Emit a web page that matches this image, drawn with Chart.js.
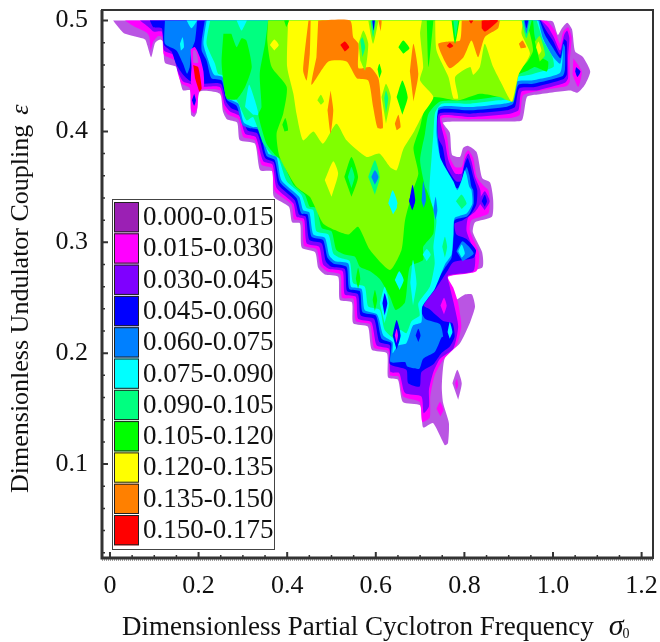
<!DOCTYPE html>
<html>
<head>
<meta charset="utf-8">
<style>html,body{margin:0;padding:0;background:#fff}canvas{display:block}</style>
<script src="https://cdn.jsdelivr.net/npm/chart.js@4"></script>
</head>
<body>
<canvas id="myCanvas" width="660" height="642"></canvas>
<script>
var xTicks = [0,0.2,0.4,0.6,0.8,1.0,1.2]
var xTickLabels = ['0','0.2','0.4','0.6','0.8','1.0','1.2']
var xMinorTicks = [0.05,0.1,0.15,0.25,0.3,0.35,0.45,0.5,0.55,0.65,0.7,0.75,0.85,0.9,0.95,1.05,1.1,1.15]
var yTicks = [0.1,0.2,0.3,0.4,0.5]
var yTickLabels = ['0.1','0.2','0.3','0.4','0.5']
var yMinorTicks = [0.02,0.04,0.06,0.08,0.12,0.14,0.16,0.18,0.22,0.24,0.26,0.28,0.32,0.34,0.36,0.38,0.42,0.44,0.46,0.48]
var bandLabels = ['0.000-0.015','0.015-0.030','0.030-0.045','0.045-0.060','0.060-0.075','0.075-0.090','0.090-0.105','0.105-0.120','0.120-0.135','0.135-0.150','0.150-0.175']

// contour outlines, flat x,y lists in axis units
var purpleEdge = [.007,.5,.023,.492,.034,.488,.079,.483,.084,.478,.093,.467,.102,.480,.113,.483,.120,.481,.124,.462,.151,.458,.158,.446,.165,.437,.181,.437,.183,.415,.190,.413,.196,.417,.203,.436,.248,.434,.255,.418,.264,.411,.287,.408,.293,.392,.327,.389,.339,.365,.366,.364,.370,.341,.404,.332,.411,.318,.429,.317,.433,.295,.463,.291,.470,.277,.485,.271,.515,.269,.519,.248,.546,.246,.549,.227,.582,.224,.591,.203,.625,.200,.628,.178,.650,.176,.661,.156,.700,.153,.707,.133,.729,.137,.756,.117,.763,.119,.765,.137,.752,.155,.749,.170,.756,.196,.790,.209,.813,.228,.824,.242,.817,.253,.801,.253,.779,.248,.767,.260,.763,.271,.840,.277,.840,.291,.819,.309,.824,.318,.862,.323,.865,.338,.858,.354,.840,.358,.828,.381,.808,.387,.797,.385,.790,.377,.772,.379,.767,.399,.752,.408,.812,.409,.903,.409,.930,.410,.941,.431,.959,.433,1.038,.437,1.056,.435,1.072,.442,1.084,.454,1.068,.467,1.050,.472,1.043,.492,1.032,.498,1.020,.493,1.011,.487,1.000,.499,.982,.5]
var magentaEdge = [.034,.5,.053,.495,.083,.489,.089,.485,.092,.473,.098,.481,.109,.486,.118,.485,.122,.469,.147,.464,.154,.451,.162,.443,.180,.439,.183,.419,.190,.416,.197,.421,.202,.437,.248,.437,.257,.421,.267,.415,.290,.411,.301,.395,.327,.392,.342,.370,.365,.367,.372,.346,.410,.334,.415,.321,.434,.319,.438,.297,.466,.294,.475,.279,.489,.274,.520,.271,.524,.250,.549,.249,.555,.229,.587,.226,.596,.205,.628,.202,.632,.180,.651,.179,.662,.161,.699,.156,.705,.138,.722,.142,.723,.161,.733,.180,.752,.194,.782,.207,.793,.224,.786,.245,.775,.259,.763,.269,.827,.274,.833,.290,.812,.311,.816,.320,.854,.326,.857,.340,.854,.347,.846,.350,.828,.359,.820,.376,.809,.383,.801,.379,.794,.368,.779,.368,.767,.377,.761,.395,.749,.412,.813,.411,.903,.412,.925,.415,.934,.433,1.031,.441,1.038,.445,1.038,.464,1.042,.485,1.034,.494,1.023,.490,1.016,.479,1.004,.491,.989,.499,.978,.5]
var violetEdge = [.068,.5,.090,.493,.098,.490,.117,.490,.122,.473,.143,.469,.152,.455,.165,.445,.180,.443,.199,.440,.248,.440,.259,.424,.271,.418,.292,.414,.305,.398,.329,.395,.346,.373,.367,.370,.376,.349,.414,.335,.421,.323,.438,.321,.444,.299,.472,.296,.481,.280,.495,.276,.525,.274,.530,.253,.555,.251,.560,.231,.590,.228,.602,.207,.630,.204,.633,.183,.653,.182,.666,.164,.703,.161,.708,.146,.720,.152,.720,.167,.730,.183,.745,.195,.775,.204,.786,.224,.776,.245,.767,.260,.763,.270,.820,.274,.824,.289,.805,.310,.808,.322,.825,.328,.836,.335,.836,.347,.824,.359,.816,.373,.809,.380,.801,.374,.794,.362,.779,.362,.764,.374,.756,.392,.746,.414,.813,.413,.903,.416,.922,.419,.929,.436,.963,.437,1.027,.444,1.034,.448,1.034,.467,1.037,.484,1.032,.491,1.025,.487,1.016,.473,1.002,.485,.989,.494,.974,.5]
var blueEdge = [.090,.5,.098,.494,.117,.493,.122,.478,.139,.472,.149,.461,.165,.451,.179,.446,.203,.443,.250,.443,.262,.427,.274,.421,.295,.417,.310,.401,.333,.398,.350,.376,.370,.372,.380,.352,.417,.338,.427,.325,.442,.323,.450,.302,.478,.299,.487,.283,.500,.278,.530,.276,.535,.256,.560,.253,.566,.234,.596,.231,.608,.210,.632,.207,.632,.190,.669,.185,.673,.173,.699,.170,.703,.183,.730,.190,.748,.200,.767,.206,.778,.215,.773,.227,.752,.229,.720,.240,.708,.243,.737,.259,.763,.275,.775,.282,.821,.286,.826,.293,.805,.303,.782,.307,.778,.317,.797,.320,.814,.325,.827,.334,.829,.347,.820,.359,.813,.370,.807,.376,.799,.368,.792,.355,.781,.355,.760,.368,.751,.386,.741,.394,.743,.416,.813,.416,.895,.419,.914,.422,.924,.439,.959,.440,1.023,.447,1.031,.451,1.031,.467,1.031,.481,1.025,.483,1.016,.469,1.001,.481,.986,.490,.972,.5]
var azureEdge = [.214,.5,.207,.482,.207,.473,.218,.464,.229,.448,.252,.446,.265,.428,.286,.423,.299,.406,.314,.403,.337,.401,.353,.378,.372,.374,.384,.354,.421,.340,.432,.326,.446,.325,.455,.305,.481,.302,.491,.286,.504,.281,.534,.278,.540,.258,.564,.256,.570,.237,.600,.234,.613,.213,.635,.209,.633,.192,.666,.192,.671,.188,.698,.186,.707,.195,.733,.201,.748,.214,.752,.215,.745,.226,.711,.231,.700,.243,.730,.260,.756,.277,.771,.286,.776,.307,.778,.320,.805,.323,.812,.326,.821,.335,.820,.347,.816,.350,.811,.361,.805,.368,.796,.359,.786,.349,.775,.350,.756,.362,.746,.374,.741,.419,.813,.419,.892,.422,.910,.425,.922,.442,.955,.443,1.022,.450,1.027,.456,1.027,.476,1.023,.479,1.017,.466,.999,.476,.982,.487,.970,.5]
var cyanEdge = [.218,.5,.211,.479,.222,.464,.235,.451,.254,.449,.267,.430,.290,.425,.302,.408,.323,.404,.340,.403,.357,.380,.376,.377,.387,.356,.427,.341,.436,.329,.450,.327,.459,.307,.485,.304,.495,.288,.508,.283,.538,.281,.544,.260,.568,.258,.575,.239,.603,.235,.617,.216,.638,.210,.638,.200,.650,.207,.669,.209,.684,.225,.703,.228,.705,.242,.733,.258,.756,.280,.771,.289,.775,.308,.778,.322,.805,.326,.818,.335,.816,.347,.811,.350,.805,.361,.801,.365,.794,.356,.784,.347,.775,.355,.756,.368,.745,.377,.737,.398,.741,.421,.756,.423,.813,.422,.888,.425,.907,.427,.919,.445,.952,.446,1.016,.453,1.022,.473,1.016,.461,.997,.469,.977,.484,.967,.5]
var springEdge = [.226,.5,.218,.479,.237,.461,.244,.452,.257,.450,.262,.431,.286,.428,.308,.410,.323,.413,.346,.389,.365,.379,.380,.376,.399,.355,.432,.343,.444,.331,.459,.329,.466,.310,.493,.307,.504,.290,.519,.286,.541,.283,.549,.263,.575,.260,.583,.242,.609,.239,.620,.221,.643,.213,.654,.221,.669,.218,.681,.229,.699,.234,.696,.245,.722,.260,.733,.281,.730,.296,.737,.320,.726,.335,.721,.347,.726,.377,.730,.398,.734,.417,.749,.425,.813,.425,.877,.428,.903,.430,.914,.448,.948,.451,1.001,.458,.999,.467,.978,.482,.963,.5]
var greenEdge = [.357,.5,.350,.479,.338,.452,.342,.422,.335,.415,.353,.389,.372,.379,.387,.374,.414,.352,.440,.343,.451,.332,.466,.331,.478,.313,.500,.310,.511,.293,.530,.289,.553,.287,.564,.278,.587,.274,.609,.267,.632,.251,.645,.239,.666,.246,.677,.278,.707,.284,.707,.296,.730,.308,.730,.329,.715,.347,.711,.350,.700,.374,.711,.398,.719,.416,.745,.427,.813,.428,.869,.431,.899,.433,.910,.449,.944,.455,.959,.458,.986,.454,.989,.463,.974,.467,.959,.485,.955,.5]
var limeEdge = [.357,.5,.355,.482,.365,.458,.399,.440,.391,.416,.376,.398,.383,.377,.421,.350,.451,.341,.459,.335,.481,.317,.508,.311,.538,.307,.560,.314,.587,.293,.632,.275,.658,.293,.666,.320,.684,.347,.696,.362,.685,.385,.700,.404,.711,.422,.730,.431,.786,.428,.835,.434,.880,.431,.897,.428,.910,.427,.925,.455,.944,.464,.955,.473,.948,.488,.940,.5]
var yellowEdge = [.402,.5,.400,.458,.414,.434,.421,.416,.436,.392,.459,.400,.481,.389,.511,.407,.534,.392,.579,.377,.608,.380,.632,.368,.647,.365,.662,.384,.685,.399,.707,.416,.730,.431,.700,.446,.707,.458,.700,.488,.704,.5]
var yellowEdgeRight = [.734,.5,.737,.473,.764,.449,.775,.430,.786,.430,.779,.449,.813,.458,.820,.451,.835,.458,.846,.479,.865,.458,.884,.443,.907,.427,.922,.451,.948,.470,.929,.488,.933,.5]
var orangeMain = [.470,.5,.542,.5,.549,.485,.561,.479,.561,.457,.587,.458,.606,.448,.612,.425,.616,.403,.604,.403,.594,.422,.583,.446,.557,.448,.534,.463,.493,.463,.455,.442,.466,.467]
var orangeStreak = [.448,.5,.436,.455,.444,.446,.451,.470,.453,.5]
var orangeOval = [.498,.437,.504,.419,.498,.398,.491,.419]
var orangeDiamond = [.677,.454,.685,.479,.696,.452,.685,.427]
var orangeRight = [.794,.5,.790,.482,.764,.481,.741,.479,.749,.469,.767,.457,.798,.467,.816,.482,.831,.467,.846,.485,.876,.493,.880,.5]
var orangeSmall1 = [.923,.479,.931,.482,.939,.476,.927,.475]
var orangeSmall2 = [.643,.407,.651,.415,.656,.404,.647,.401]
var orangeSmall3 = [.606,.5,.613,.5,.611,.490]
var redCentre = [.520,.478,.530,.481,.540,.476,.530,.472]
var redTongue = [.188,.460,.199,.458,.207,.439,.202,.436,.192,.448]
var redTop = [.839,.5,.876,.5,.858,.493,.846,.490,.839,.493]
var redSpot = [.760,.477,.767,.480,.775,.477,.767,.475]
var redTiny = [.810,.5,.820,.5,.815,.497]

// small closed islands, listed by band
var azureBlob = [.124,.5,.124,.479,.150,.473,.165,.461,.174,.452,.180,.458,.184,.473,.192,.482,.197,.5]
var tongueMagenta = [.182,.474,.192,.476,.203,.467,.211,.454,.211,.439,.184,.442,.184,.458]
var tonguePurple = [.187,.473,.194,.473,.199,.462,.188,.462]
var blueSpike = [.190,.434,.194,.428,.190,.423,.185,.428]
var cyanTop1 = [.173,.5,.184,.493,.197,.5]
var cyanTop2 = [.158,.479,.164,.485,.167,.476,.160,.473]
var cyanTop3 = [.286,.5,.297,.491,.309,.5]
var cyanBlob = [.305,.422,.314,.442,.327,.428,.335,.415,.323,.415]
var greenPatch = [.256,.488,.252,.461,.263,.430,.286,.429,.305,.440,.320,.458,.308,.482,.297,.484,.286,.476,.274,.488]
var yellowSpot1 = [.361,.478,.371,.483,.381,.478,.371,.473]
var greenTop = [.393,.5,.404,.5,.398,.494]
var greenSpot1 = [.389,.406,.396,.412,.402,.401,.394,.400]
var limeRing = [.561,.479,.572,.491,.583,.479,.576,.455,.565,.464]
var springCore = [.565,.482,.570,.485,.576,.476,.570,.467]
var limeWedge = [.583,.5,.594,.479,.606,.5]
var springWedge = [.588,.5,.594,.485,.600,.5]
var blueWedge = [.592,.5,.595,.491,.598,.5]
var limeSpot = [.468,.428,.476,.433,.483,.427,.476,.424]
var greenOval = [.529,.359,.545,.377,.560,.359,.545,.341]
var springOval = [.537,.359,.545,.368,.552,.359,.545,.349]
var yellowOval = [.485,.356,.504,.373,.515,.362,.500,.341]
var springRound = [.583,.359,.598,.374,.609,.359,.598,.343]
var azureRound = [.590,.359,.598,.365,.606,.359,.598,.352]
var blueStreak1 = [.675,.337,.682,.346,.688,.337,.682,.329]
var azureStreak1 = [.703,.338,.708,.347,.713,.338,.708,.331]
var azureStreak2 = [.730,.329,.735,.341,.739,.329,.735,.320]
var cyanOval1 = [.630,.334,.641,.341,.648,.332,.639,.325]
var cyanRing = [.609,.245,.620,.260,.630,.245,.620,.227]
var blueCore = [.615,.245,.620,.254,.626,.245,.620,.234]
var blueRing = [.638,.216,.647,.230,.656,.216,.647,.203]
var magentaCore = [.643,.216,.647,.222,.650,.216,.647,.209]
var blueSpot = [.690,.216,.696,.222,.701,.216,.696,.210]
var cyanStreak = [.678,.263,.684,.284,.692,.263,.684,.243]
var cyanRound = [.643,.266,.653,.274,.663,.266,.654,.257]
var greenDrop1 = [.555,.267,.560,.277,.565,.267,.560,.258]
var greenDrop2 = [.593,.248,.598,.257,.603,.248,.598,.238]
var cyanSpot = [.706,.289,.715,.294,.724,.289,.715,.283]
var springSpot1 = [.750,.296,.756,.305,.761,.296,.756,.286]
var springSpot2 = [.781,.337,.794,.343,.805,.335,.794,.330]
var azurePatch = [.782,.292,.796,.301,.821,.290,.796,.283]
var cyanPatch = [.786,.292,.794,.298,.801,.290,.794,.286]
var magentaPatch = [.746,.243,.754,.250,.760,.243,.754,.235]
var cyanDrop = [.762,.219,.767,.228,.773,.219,.767,.213]
var magentaTail = [.737,.150,.745,.156,.753,.149,.746,.143]
var purpleIsle = [.773,.173,.784,.185,.794,.173,.786,.158]
var magentaIsle = [.779,.173,.783,.177,.786,.171,.782,.167]
var magentaRight = [1.046,.466,1.065,.454,1.057,.440,1.044,.451]
var blueRight = [1.052,.458,1.062,.454,1.055,.449,1.050,.454]
var violetRing = [.831,.337,.846,.346,.857,.337,.846,.329]
var blueRingCore = [.839,.337,.846,.343,.851,.337,.846,.332]
var springWedge2 = [.929,.5,.940,.484,.952,.5]
var azureWedge2 = [.934,.5,.940,.488,.946,.5]
var blueWedge2 = [.936,.5,.940,.493,.944,.5]
var greenWedge3 = [.771,.5,.779,.479,.789,.5]
var springWedge3 = [.775,.5,.780,.485,.786,.5]
var greenStreak = [.715,.5,.719,.458,.730,.5]
var greenDiamond = [.651,.476,.662,.482,.676,.475,.662,.470]
var greenDrop3 = [.604,.456,.608,.461,.613,.454,.608,.448]
var limeDrop = [.613,.431,.623,.443,.634,.431,.623,.407]
var springDrop = [.619,.430,.623,.437,.628,.430,.623,.416]
var greenDrop4 = [.647,.431,.660,.446,.672,.431,.660,.415]
var cyanOval2 = [.628,.335,.638,.347,.649,.335,.638,.329]
var blueOval = [.676,.338,.683,.352,.689,.338,.683,.329]
var azureOval = [.704,.341,.707,.355,.713,.341,.707,.332]
var limeIsle = [.959,.481,.970,.486,.982,.469,.970,.463]
var yellowIsle = [.962,.476,.967,.481,.974,.473,.968,.469]

var plotPurple = '#ba55e3', magenta = '#ff00ff', violet = '#7f00ff', blue = '#0000ff', azure = '#0080ff', cyan = '#00ffff'
var spring = '#00ff80', green = '#00ff00', lime = '#80ff00', yellow = '#ffff00', orange = '#ff8000', red = '#ff0000'
var legendColors = ['#9b20b4',magenta,violet,blue,azure,cyan,spring,green,yellow,orange,red]

// paint order, low bands first
var layers = [
    [plotPurple,purpleEdge],[magenta,magentaEdge],[violet,violetEdge],[blue,blueEdge],[azure,azureBlob],
    [cyan,cyanTop1],[cyan,cyanTop2],[magenta,tongueMagenta],[plotPurple,tonguePurple],[blue,blueSpike],
    [azure,azureEdge],[cyan,cyanEdge],[spring,springEdge],[cyan,cyanTop3],[green,greenPatch],[cyan,cyanBlob],
    [green,greenEdge],[lime,limeEdge],[yellow,yellowEdge],[yellow,yellowEdgeRight],
    [orange,orangeMain],[orange,orangeStreak],[orange,orangeOval],[orange,orangeDiamond],[orange,orangeRight],[orange,orangeSmall1],[orange,orangeSmall2],[orange,orangeSmall3],
    [red,redCentre],[red,redTongue],[red,redTop],[red,redSpot],[red,redTiny],
    [yellow,yellowSpot1],[green,greenTop],[green,greenSpot1],[lime,limeRing],[spring,springCore],[lime,limeWedge],[spring,springWedge],[blue,blueWedge],[lime,limeSpot],
    [green,greenOval],[spring,springOval],[yellow,yellowOval],[spring,springRound],[azure,azureRound],
    [blue,blueStreak1],[azure,azureStreak1],[azure,azureStreak2],[cyan,cyanOval1],[cyan,cyanRing],[blue,blueCore],[blue,blueRing],[magenta,magentaCore],[blue,blueSpot],
    [cyan,cyanStreak],[cyan,cyanRound],[green,greenDrop1],[green,greenDrop2],[cyan,cyanSpot],[spring,springSpot1],[spring,springSpot2],
    [azure,azurePatch],[cyan,cyanPatch],[magenta,magentaPatch],[cyan,cyanDrop],[magenta,magentaTail],[plotPurple,purpleIsle],[magenta,magentaIsle],
    [magenta,magentaRight],[blue,blueRight],[violet,violetRing],[blue,blueRingCore],
    [spring,springWedge2],[azure,azureWedge2],[blue,blueWedge2],[green,greenWedge3],[spring,springWedge3],[green,greenStreak],
    [green,greenDiamond],[green,greenDrop3],[lime,limeDrop],[spring,springDrop],[green,greenDrop4],[cyan,cyanOval2],[blue,blueOval],[azure,azureOval],[lime,limeIsle],[yellow,yellowIsle]
]

function toPoints(list) {
    var pts = []
    for (var i = 0; i < list.length; i += 2) pts.push({x: list[i], y: list[i + 1]})
    return pts
}

var serif = '"Liberation Serif"'

var framePlugin = {
    id: 'frame',
    afterDraw: function (chart) {
        var c = chart.ctx, a = chart.chartArea, sx = chart.scales.x, sy = chart.scales.y
        c.save()
        c.strokeStyle = '#333'
        c.lineWidth = 2
        c.strokeRect(a.left, a.top, a.right - a.left, a.bottom - a.top)
        c.lineWidth = 3
        c.beginPath()
        c.moveTo(a.left, a.top); c.lineTo(a.left, a.bottom); c.lineTo(a.right, a.bottom)
        c.stroke()
        // dotted edge under the bottom axis
        c.lineWidth = 1
        c.strokeStyle = '#444'
        c.setLineDash([1, 1])
        c.beginPath()
        c.moveTo(a.left, a.bottom + 2); c.lineTo(a.right, a.bottom + 2)
        c.stroke()
        c.setLineDash([])
        // inward ticks
        c.strokeStyle = '#333'
        c.lineWidth = 2
        c.beginPath()
        xTicks.forEach(function (v) { var p = sx.getPixelForValue(v); c.moveTo(p, a.bottom); c.lineTo(p, a.bottom - 6) })
        yTicks.forEach(function (v) { var p = sy.getPixelForValue(v); c.moveTo(a.left, p); c.lineTo(a.left + 6, p) })
        c.stroke()
        c.lineWidth = 1.5
        c.beginPath()
        xMinorTicks.forEach(function (v) { var p = sx.getPixelForValue(v); c.moveTo(p, a.bottom); c.lineTo(p, a.bottom - 3) })
        yMinorTicks.forEach(function (v) { var p = sy.getPixelForValue(v); c.moveTo(a.left, p); c.lineTo(a.left + 3, p) })
        c.stroke()

        // legend box
        c.fillStyle = '#fff'
        c.fillRect(112, 199, 163, 350)
        c.strokeStyle = '#444'
        c.lineWidth = 1
        c.strokeRect(112.5, 199.5, 162, 350)
        c.font = '27px ' + serif
        c.textBaseline = 'middle'
        c.textAlign = 'left'
        bandLabels.forEach(function (label, i) {
            var top = 202 + i * 31.3
            c.fillStyle = legendColors[i]
            c.fillRect(114, top, 25, 30.3)
            c.strokeStyle = '#222'
            c.strokeRect(114.5, top + 0.5, 24, 29.3)
            c.fillStyle = '#111'
            c.fillText(label, 143, top + 16)
        })

        // axis titles with the italic symbols
        c.fillStyle = '#111'
        c.textBaseline = 'alphabetic'
        c.font = '27px ' + serif
        var xt = 'Dimensionless Partial Cyclotron Frequency'
        c.fillText(xt, 122, 635)
        var w = c.measureText(xt).width
        c.font = 'italic 30px ' + serif
        c.fillText('\u03c3', 122 + w + 15, 635)
        var sw = c.measureText('\u03c3').width
        c.font = '14px ' + serif
        c.fillText('0', 122 + w + 15 + sw - 1, 638)

        c.translate(28, 493)
        c.rotate(-Math.PI / 2)
        c.font = '26px ' + serif
        var yt = 'Dimensionless Undulator Coupling'
        c.fillText(yt, 0, 0)
        w = c.measureText(yt).width
        c.font = 'italic 26px ' + serif
        c.fillText('\u03b5', w + 10, 0)
        c.restore()
    }
}

var ctx = document.getElementById('myCanvas')
var myChart = new Chart(ctx, {
    type: 'scatter',
    data: {
        // Chart.js paints the last dataset first
        datasets: layers.slice().reverse().map(function (l) {
            return {
                data: toPoints(l[1]),
                showLine: true,
                fill: 'shape',
                backgroundColor: l[0],
                borderColor: l[0],
                borderWidth: 0,
                pointRadius: 0,
                tension: 0.2
            }
        })
    },
    options: {
        responsive: false,
        animation: false,
        layout: {padding: {top: 10, right: 7, left: 0, bottom: 0}},
        plugins: {legend: {display: false}, tooltip: {enabled: false}},
        scales: {
            x: {
                type: 'linear',
                min: -0.018,
                max: 1.2257,
                grid: {display: false, drawTicks: false},
                border: {display: false},
                afterBuildTicks: function (s) { s.ticks = xTicks.map(function (v) { return {value: v} }) },
                afterFit: function (s) { s.height = 84; s.paddingLeft = 0; s.paddingRight = 0; s.paddingTop = 0; s.paddingBottom = 0 },
                ticks: {
                    autoSkip: false, maxRotation: 0, padding: 13, color: '#111',
                    font: {family: 'Liberation Serif', size: 26},
                    callback: function (v) { return xTickLabels[xTicks.indexOf(v)] }
                }
            },
            y: {
                type: 'linear',
                min: 0.0153,
                max: 0.5095,
                grid: {display: false, drawTicks: false},
                border: {display: false},
                afterBuildTicks: function (s) { s.ticks = yTicks.map(function (v) { return {value: v} }) },
                afterFit: function (s) { s.width = 102; s.paddingLeft = 0; s.paddingRight = 0; s.paddingTop = 0; s.paddingBottom = 0 },
                ticks: {
                    autoSkip: false, padding: 14, color: '#111',
                    font: {family: 'Liberation Serif', size: 26},
                    callback: function (v) { return yTickLabels[yTicks.indexOf(v)] }
                }
            }
        }
    },
    plugins: [framePlugin]
})
</script>
</body>
</html>
